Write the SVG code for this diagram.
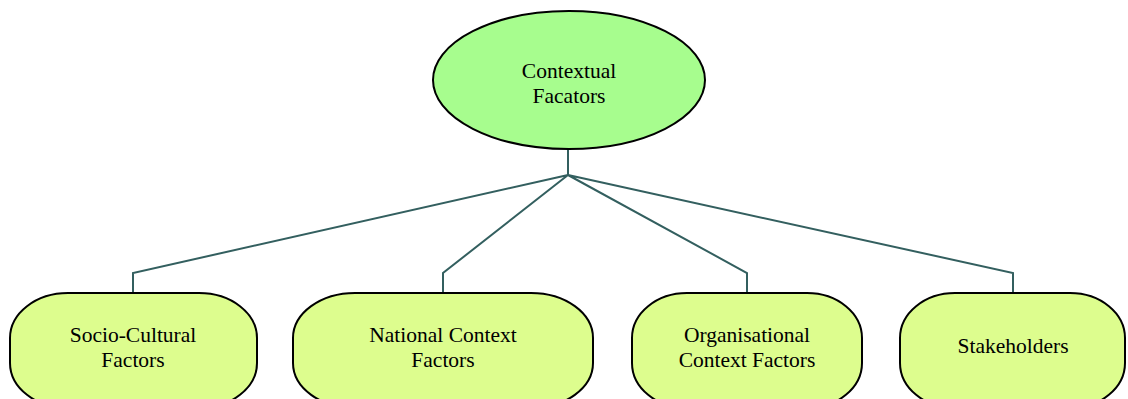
<svg xmlns="http://www.w3.org/2000/svg" width="1128" height="399" viewBox="0 0 1128 399">
<style>
.conn{fill:none;stroke:#335f5f;stroke-width:2}
.box{fill:#ddfd8e;stroke:#000;stroke-width:2}
.top{fill:#a7fd8e;stroke:#000;stroke-width:2}
.t{font-family:"Liberation Serif","Times New Roman",serif;font-size:21.5px;fill:#000;text-anchor:middle}
</style>
<rect width="1128" height="399" fill="#fff"/>
<g id="connectors">
<path class="conn" d="M568,150 V175 M568,175 L133,273 V293 M568,175 L443,273 V293 M568,175 L747,273 V293 M568,175 L1013,273 V293"/>
</g>
<g id="contextual">
<ellipse class="top" cx="569" cy="80" rx="136" ry="69"/>
<text class="t" x="569" y="78">Contextual</text>
<text class="t" x="569" y="103">Facators</text>
</g>
<g id="socio">
<rect class="box" x="10" y="293" width="247" height="115" rx="58" ry="45"/>
<text class="t" x="133" y="342">Socio-Cultural</text>
<text class="t" x="133" y="367">Factors</text>
</g>
<g id="national">
<rect class="box" x="293" y="293" width="300" height="115" rx="62" ry="45"/>
<text class="t" x="443" y="342">National Context</text>
<text class="t" x="443" y="367">Factors</text>
</g>
<g id="organisational">
<rect class="box" x="632" y="293" width="230" height="115" rx="55" ry="45"/>
<text class="t" x="747" y="342">Organisational</text>
<text class="t" x="747" y="367">Context Factors</text>
</g>
<g id="stakeholders">
<rect class="box" x="900" y="293" width="225" height="115" rx="55" ry="45"/>
<text class="t" x="1013" y="353">Stakeholders</text>
</g>
</svg>
